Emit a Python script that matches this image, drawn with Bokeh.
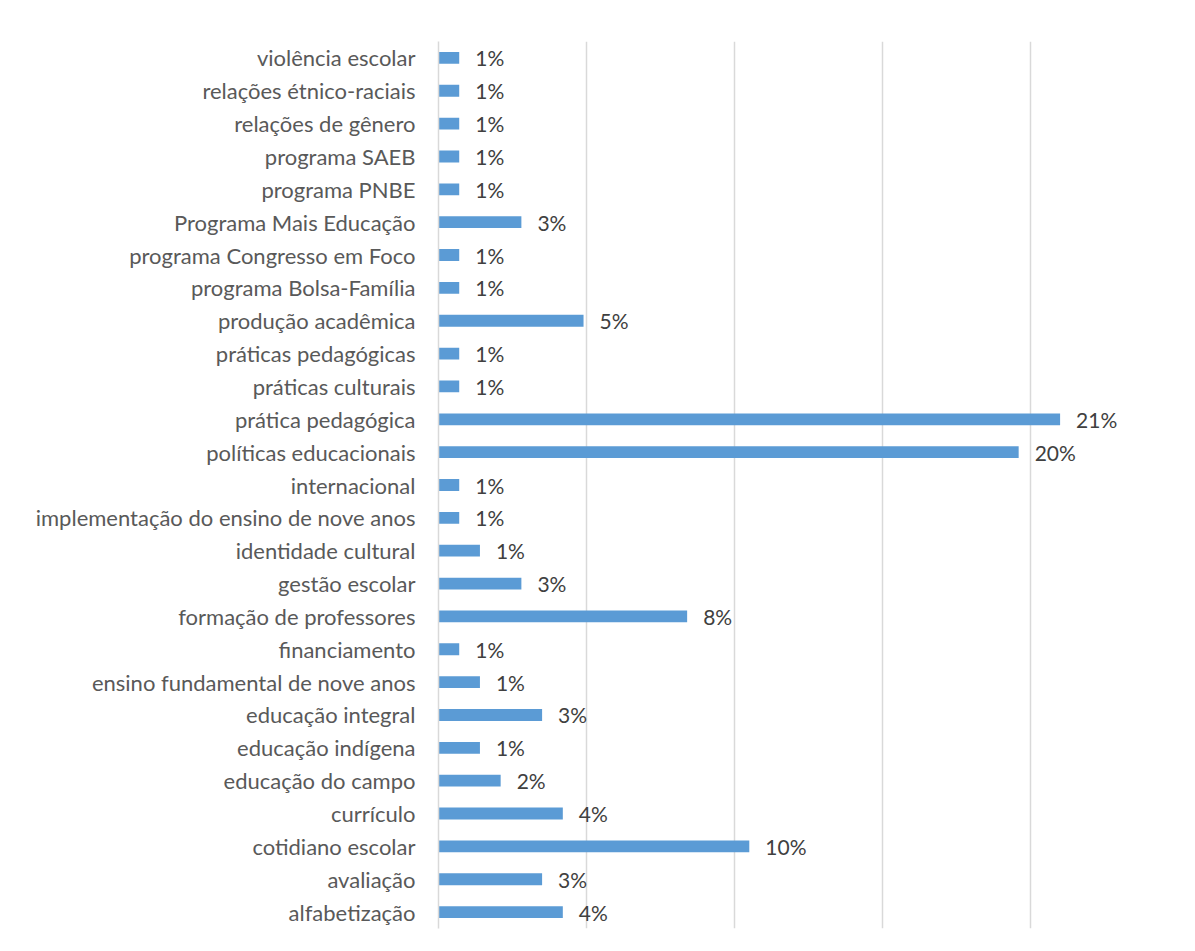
from bokeh.plotting import figure
from bokeh.models import ColumnDataSource, FactorRange, FixedTicker, Range1d
from bokeh.core.properties import value
from bokeh.embed import file_html
from bokeh.resources import INLINE

categories = [
    "violência escolar", "relações étnico-raciais", "relações de gênero",
    "programa SAEB", "programa PNBE", "Programa Mais Educação",
    "programa Congresso em Foco", "programa Bolsa-Família", "produção acadêmica",
    "práticas pedagógicas", "práticas culturais", "prática pedagógica",
    "políticas educacionais", "internacional", "implementação do ensino de nove anos",
    "identidade cultural", "gestão escolar", "formação de professores",
    "financiamento", "ensino fundamental de nove anos", "educação integral",
    "educação indígena", "educação do campo", "currículo", "cotidiano escolar",
    "avaliação", "alfabetização",
]
values = [
    0.7, 0.7, 0.7, 0.7, 0.7, 2.8, 0.7, 0.7, 4.9, 0.7, 0.7, 21.0, 19.6, 0.7, 0.7,
    1.4, 2.8, 8.4, 0.7, 1.4, 3.5, 1.4, 2.1, 4.2, 10.5, 3.5, 4.2,
]
labels = [
    "1%", "1%", "1%", "1%", "1%", "3%", "1%", "1%", "5%", "1%", "1%", "21%", "20%",
    "1%", "1%", "1%", "3%", "8%", "1%", "1%", "3%", "1%", "2%", "4%", "10%", "3%", "4%",
]
grid_ticks = [0, 5, 10, 15, 20, 25]

FONT = "Lato"
src = ColumnDataSource(dict(cat=categories, val=values, lab=labels))

p = figure(
    width=1179, height=935,
    y_range=FactorRange(factors=list(reversed(categories))),
    x_range=Range1d(0, 25),
    output_backend="svg", toolbar_location=None,
    min_border_left=438, min_border_right=1, min_border_top=41, min_border_bottom=7,
)
p.outline_line_color = None
p.background_fill_color = "white"
p.border_fill_color = "white"

p.hbar(y="cat", right="val", left=0, height=0.36, source=src,
       fill_color="#5B9BD5", line_color=None)
p.text(x="val", y="cat", text="lab", source=src, x_offset=16,
       text_baseline="middle", text_align="left",
       text_font=value(FONT), text_font_size="21px", text_color="#404040")

p.xaxis.visible = False
p.xgrid.ticker = FixedTicker(ticks=grid_ticks)
p.xgrid.grid_line_color = "#d9d9d9"
p.xgrid.grid_line_width = 1.5
p.ygrid.grid_line_color = None

ax = p.yaxis[0]
ax.axis_line_color = "#d9d9d9"
ax.axis_line_width = 1.5
ax.major_tick_line_color = None
ax.minor_tick_line_color = None
ax.major_tick_out = 0
ax.major_tick_in = 0
ax.major_label_standoff = 23
ax.major_label_text_font = FONT
ax.major_label_text_font_size = "22px"
ax.major_label_text_color = "#595959"

open("out.html", "w").write(file_html(p, INLINE))
